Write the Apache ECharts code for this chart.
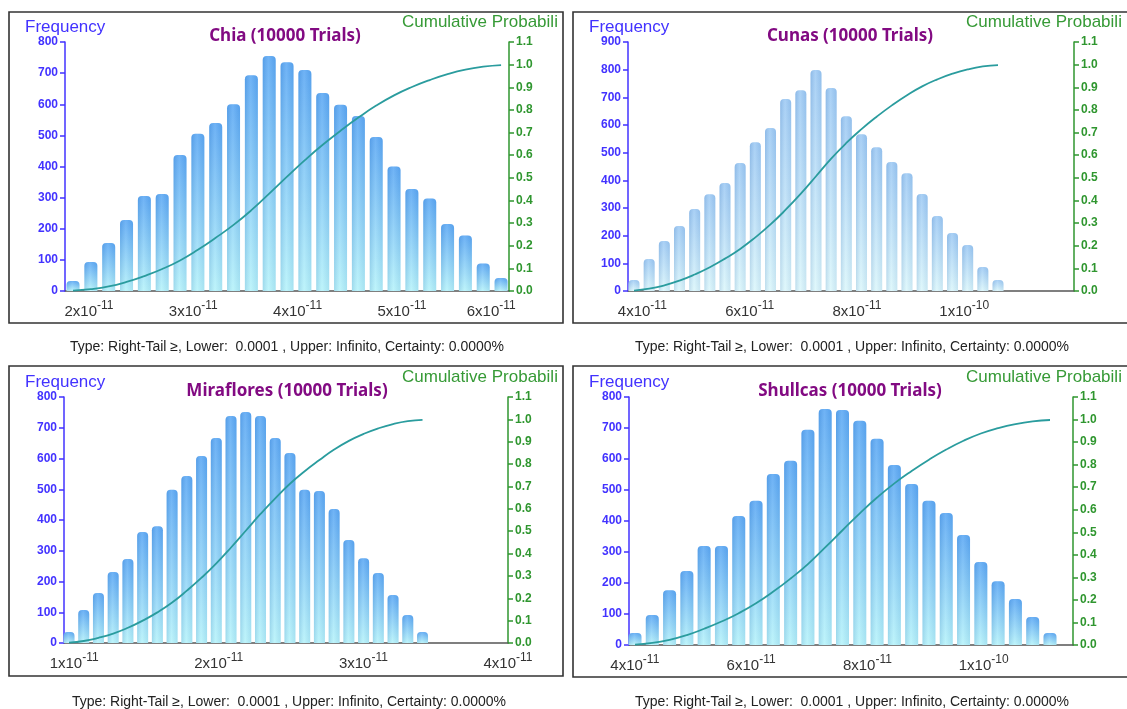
<!DOCTYPE html>
<html>
<head>
<meta charset="utf-8">
<script src="https://cdn.jsdelivr.net/npm/echarts@6/dist/echarts.min.js"></script>
<style>
  html, body { margin: 0; padding: 0; background: #ffffff; }
  #chart { width: 1127px; height: 709px; }
</style>
</head>
<body>
<div id="chart"></div>
<script>
// Forecast histograms (10000 trials each). X values are stored in units of 1e-11.
const X_UNIT = 1e-11;

// ---- Chia ----
const chiaFreq = [32, 93, 154, 228, 305, 312, 437, 505, 540, 600, 693, 755, 735, 710, 636, 598, 562, 495, 400, 328, 297, 215, 178, 88, 42];
const chiaCum = [0.002, 0.008, 0.020, 0.040, 0.066, 0.097, 0.135, 0.182, 0.235, 0.292, 0.357, 0.430, 0.505, 0.578, 0.646, 0.708, 0.766, 0.819, 0.864, 0.901, 0.932, 0.958, 0.978, 0.991, 0.998];
const chiaFirstBin = 1.847;
const chiaBinStep = 0.171;
const chiaRange = [1.770, 6.027];
const chiaTicks = [2, 3, 4, 5, 6];
const chiaFreqMax = 800;

// ---- Cunas ----
const cunasFreq = [40, 116, 181, 235, 296, 350, 390, 463, 538, 589, 694, 726, 799, 734, 632, 567, 520, 466, 426, 351, 271, 210, 166, 87, 40];
const cunasCum = [0.002, 0.010, 0.025, 0.046, 0.073, 0.105, 0.143, 0.186, 0.237, 0.294, 0.359, 0.430, 0.507, 0.585, 0.654, 0.715, 0.770, 0.820, 0.865, 0.904, 0.935, 0.960, 0.979, 0.992, 0.998];
const cunasFirstBin = 3.845;
const cunasBinStep = 0.2827;
const cunasRange = [3.733, 12.046];
const cunasTicks = [4, 6, 8, 10];
const cunasFreqMax = 900;

// ---- Miraflores ----
const mirafloresFreq = [36, 107, 163, 231, 273, 361, 380, 498, 543, 608, 667, 738, 751, 738, 667, 618, 498, 494, 436, 335, 276, 228, 156, 91, 36];
const mirafloresCum = [0.002, 0.009, 0.023, 0.042, 0.068, 0.100, 0.137, 0.181, 0.234, 0.292, 0.356, 0.427, 0.502, 0.577, 0.647, 0.712, 0.768, 0.818, 0.865, 0.904, 0.935, 0.960, 0.979, 0.992, 0.998];
const mirafloresFirstBin = 0.9646;
const mirafloresBinStep = 0.10185;
const mirafloresRange = [0.930, 4.0];
const mirafloresTicks = [1, 2, 3, 4];
const mirafloresFreqMax = 800;

// ---- Shullcas ----
const shullcasFreq = [39, 97, 177, 239, 319, 319, 416, 465, 552, 594, 694, 761, 758, 723, 665, 581, 519, 465, 426, 355, 268, 206, 148, 90, 39];
const shullcasCum = [0.002, 0.009, 0.023, 0.044, 0.072, 0.104, 0.141, 0.185, 0.237, 0.295, 0.359, 0.433, 0.509, 0.584, 0.654, 0.717, 0.772, 0.822, 0.867, 0.906, 0.938, 0.962, 0.980, 0.992, 0.998];
const shullcasFirstBin = 4.003;
const shullcasBinStep = 0.2974;
const shullcasRange = [3.900, 11.536];
const shullcasTicks = [4, 6, 8, 10];
const shullcasFreqMax = 800;

const cumTicksMax = 1.1;
const footerText = 'Type: Right-Tail \u2265, Lower:  0.0001 , Upper: Infinito, Certainty: 0.0000%';

const panels = [
  { name: 'Chia', freq: chiaFreq, cum: chiaCum, first: chiaFirstBin, step: chiaBinStep, range: chiaRange, ticks: chiaTicks, fmax: chiaFreqMax,
    grid: { left: 65, top: 42, width: 444, height: 249 }, frame: [9, 12, 554, 311], cx: 285, top: 0, left: 0,
    barWidth: 13, light: false, lastShift: 30 },
  { name: 'Cunas', freq: cunasFreq, cum: cunasCum, first: cunasFirstBin, step: cunasBinStep, range: cunasRange, ticks: cunasTicks, fmax: cunasFreqMax,
    grid: { left: 628, top: 42, width: 446, height: 249 }, frame: [573, 12, 600, 311], cx: 850, top: 0, left: 564,
    barWidth: 11, light: true, lastShift: 0 },
  { name: 'Miraflores', freq: mirafloresFreq, cum: mirafloresCum, first: mirafloresFirstBin, step: mirafloresBinStep, range: mirafloresRange, ticks: mirafloresTicks, fmax: mirafloresFreqMax,
    grid: { left: 64, top: 397, width: 444, height: 246 }, frame: [9, 366, 554, 310], cx: 287, top: 355, left: 0,
    barWidth: 11, light: false, lastShift: 0 },
  { name: 'Shullcas', freq: shullcasFreq, cum: shullcasCum, first: shullcasFirstBin, step: shullcasBinStep, range: shullcasRange, ticks: shullcasTicks, fmax: shullcasFreqMax,
    grid: { left: 629, top: 397, width: 444, height: 248 }, frame: [573, 366, 600, 311], cx: 850, top: 355, left: 564,
    barWidth: 13, light: false, lastShift: 0 }
];

const BLUE = '#4232ff';
const GREEN = '#2f962f';
const AXIS_FONT = "'Liberation Sans', Arial, sans-serif";

function sciLabel(v, isLast, shift) {
  const val = v * X_UNIT;
  const exp = Math.floor(Math.log10(val) + 1e-9);
  const mant = Math.round(val / Math.pow(10, exp));
  const expStyle = (isLast && shift) ? 'el' : 'e';
  return '{m|' + mant + 'x10}{' + expStyle + '|' + exp + '}';
}

const grids = [], xAxes = [], yAxes = [], series = [], graphics = [];

panels.forEach((p, i) => {
  grids.push(Object.assign({ containLabel: false }, p.grid));

  const lastTick = p.ticks[p.ticks.length - 1];
  xAxes.push({
    type: 'value', gridIndex: i, min: p.range[0], max: p.range[1],
    axisLine: { show: true, lineStyle: { color: '#555555', width: 1.5 } },
    axisTick: { show: false },
    splitLine: { show: false },
    axisLabel: {
      customValues: p.ticks,
      margin: 9,
      formatter: v => sciLabel(v, Math.abs(v - lastTick) < 1e-9, p.lastShift),
      rich: {
        m: { fontSize: 15, color: '#333333', fontFamily: AXIS_FONT },
        e: { fontSize: 12, color: '#333333', fontFamily: AXIS_FONT, padding: [0, 0, 12, 0] },
        el: { fontSize: 12, color: '#333333', fontFamily: AXIS_FONT, padding: [0, p.lastShift, 12, 0] }
      }
    }
  });

  yAxes.push({
    type: 'value', gridIndex: i, position: 'left', min: 0, max: p.fmax, interval: 100,
    axisLine: { show: true, lineStyle: { color: BLUE, width: 1.5 } },
    axisTick: { show: true, length: 5, lineStyle: { color: BLUE, width: 1.5 } },
    splitLine: { show: false },
    axisLabel: { color: BLUE, fontSize: 12, fontWeight: 'bold', fontFamily: AXIS_FONT, margin: 7 }
  });
  yAxes.push({
    type: 'value', gridIndex: i, position: 'right', min: 0, max: cumTicksMax, interval: 0.1,
    axisLine: { show: true, lineStyle: { color: GREEN, width: 1.5 } },
    axisTick: { show: true, length: 5, lineStyle: { color: GREEN, width: 1.5 } },
    splitLine: { show: false },
    axisLabel: { color: GREEN, fontSize: 12, fontWeight: 'bold', fontFamily: AXIS_FONT, margin: 7,
      formatter: v => v.toFixed(1) }
  });

  const barData = p.freq.map((f, k) => [p.first + k * p.step, f]);
  const cumData = p.cum.map((c, k) => [p.first + k * p.step, c]);

  const topCol = p.light ? '#9ecaf4' : '#5ba8f4';
  const botCol = p.light ? '#dcf7fb' : '#b6f3fa';

  series.push({
    type: 'bar', name: p.name, xAxisIndex: i, yAxisIndex: 2 * i, data: barData,
    barWidth: p.barWidth, clip: false, silent: true,
    itemStyle: {
      borderRadius: [4, 4, 0, 0],
      color: new echarts.graphic.LinearGradient(0, 0, 0, 1, [
        { offset: 0, color: topCol }, { offset: 1, color: botCol }
      ])
    }
  });
  // soft cylindrical shading across each bar
  series.push({
    type: 'bar', xAxisIndex: i, yAxisIndex: 2 * i, data: barData,
    barWidth: p.barWidth, barGap: '-100%', clip: false, silent: true,
    itemStyle: {
      borderRadius: [4, 4, 0, 0],
      color: new echarts.graphic.LinearGradient(0, 0, 1, 0, [
        { offset: 0, color: 'rgba(40,90,160,0.16)' },
        { offset: 0.45, color: 'rgba(255,255,255,0.12)' },
        { offset: 1, color: 'rgba(40,90,160,0.10)' }
      ])
    }
  });
  series.push({
    type: 'line', xAxisIndex: i, yAxisIndex: 2 * i + 1, data: cumData,
    smooth: true, symbol: 'none', silent: true, z: 5,
    lineStyle: { color: '#2a9c9e', width: 1.8 }
  });

  // panel frame
  graphics.push({
    type: 'rect', shape: { x: p.frame[0], y: p.frame[1], width: p.frame[2], height: p.frame[3] },
    style: { fill: 'none', stroke: '#333333', lineWidth: 1.6 }, z: 0
  });
  graphics.push({
    type: 'text', x: p.left + 25, y: p.top + 27,
    style: { text: 'Frequency', fill: BLUE, font: "17px 'Liberation Sans', Arial, sans-serif",
      textAlign: 'left', textVerticalAlign: 'middle' }
  });
  graphics.push({
    type: 'text', x: p.cx, y: p.top + 36,
    style: { text: p.name + ' (10000 Trials)', fill: '#820a82', font: "bold 17px 'Noto Sans', sans-serif",
      textAlign: 'center', textVerticalAlign: 'middle' }
  });
  graphics.push({
    type: 'text', x: p.left + 402, y: p.top + 22,
    style: { text: 'Cumulative Probability', fill: '#369a36', font: "17px 'Liberation Sans', Arial, sans-serif",
      textAlign: 'left', textVerticalAlign: 'middle', width: 160, overflow: 'truncate', ellipsis: '' }
  });
  graphics.push({
    type: 'text', x: p.cx + 2, y: p.top + 347,
    style: { text: footerText, fill: '#222222', font: "14px 'Liberation Sans', Arial, sans-serif",
      textAlign: 'center', textVerticalAlign: 'middle' }
  });
});

const chart = echarts.init(document.getElementById('chart'), null, { renderer: 'canvas' });
chart.setOption({
  animation: false,
  backgroundColor: '#ffffff',
  grid: grids,
  xAxis: xAxes,
  yAxis: yAxes,
  series: series,
  graphic: { elements: graphics }
});
</script>
</body>
</html>
